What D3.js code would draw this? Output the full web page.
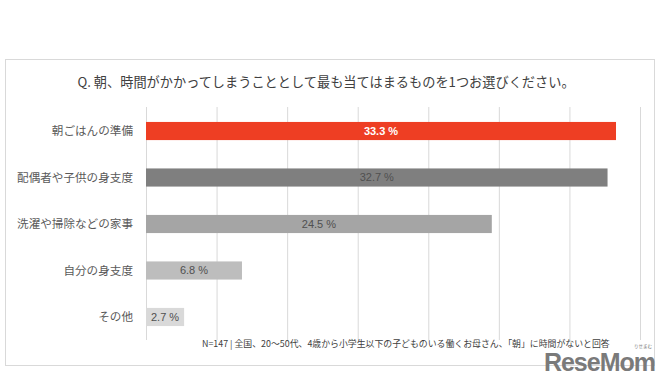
<!DOCTYPE html>
<html><head><meta charset="utf-8">
<script src="https://cdn.jsdelivr.net/npm/d3@7"></script>
<style>body{margin:0;background:#fff}svg{display:block;font-family:"Noto Sans CJK JP","Noto Sans",sans-serif}</style>
</head><body>
<svg id="c" width="668" height="380"></svg>
<script>
const categories = ["朝ごはんの準備","配偶者や子供の身支度","洗濯や掃除などの家事","自分の身支度","その他"];
const values = [33.3, 32.7, 24.5, 6.8, 2.7];
const barColors = ["#EE3E23","#7F7F7F","#A5A5A5","#BDBDBD","#D9D9D9"];
const labelColors = ["#ffffff","#505050","#505050","#505050","#505050"];
const ticks = [0,5,10,15,20,25,30,35];
const title = "Q. 朝、時間がかかってしまうこととして最も当てはまるものを1つお選びください。";
const note = "N=147 | 全国、20〜50代、4歳から小学生以下の子どものいる働くお母さん、「朝」に時間がないと回答";

const svg = d3.select("#c");
svg.append("rect").attr("x",5.5).attr("y",59.5).attr("width",649).attr("height",306)
  .attr("fill","#fff").attr("stroke","#d9d9d9");

const x = d3.scaleLinear().domain([0,35]).range([146,640]);
const y = d3.scaleBand().domain(categories).range([108,340]).paddingInner(0.61).paddingOuter(0.3);

svg.append("text").attr("x",326).attr("y",87).attr("text-anchor","middle")
  .attr("font-size",13.2).attr("font-weight",400).attr("fill","#404040").text(title);

svg.append("g").selectAll("line").data(ticks).join("line")
  .attr("x1",d=>x(d)+0.5).attr("x2",d=>x(d)+0.5).attr("y1",107).attr("y2",340)
  .attr("stroke","#d9d9d9");

svg.append("g").selectAll("rect").data(values).join("rect")
  .attr("x",x(0)).attr("y",(d,i)=>y(categories[i]))
  .attr("width",d=>x(d)-x(0)).attr("height",y.bandwidth())
  .attr("fill",(d,i)=>barColors[i]);

svg.append("g").selectAll("text").data(categories).join("text")
  .attr("x",133).attr("y",d=>y(d)+y.bandwidth()/2).attr("dy","0.36em")
  .attr("text-anchor","end").attr("font-size",11.6).attr("fill","#595959").text(d=>d);

svg.append("g").selectAll("text").data(values).join("text")
  .attr("x",d=>(x(0)+x(d))/2).attr("y",(d,i)=>y(categories[i])+y.bandwidth()/2).attr("dy","0.36em")
  .attr("text-anchor","middle").attr("font-size",11).attr("font-family","Liberation Sans, Arial, sans-serif")
  .attr("font-weight",(d,i)=>i===0?"bold":"normal")
  .attr("fill",(d,i)=>labelColors[i]).text(d=>d.toFixed(1)+" %");

svg.append("text").attr("x",202).attr("y",347).attr("font-size",8.9).attr("fill","#404040").text(note);

svg.append("text").attr("x",655).attr("y",371).attr("text-anchor","end")
  .attr("font-family","Liberation Sans, Arial, sans-serif").attr("font-size",25).attr("font-weight","bold")
  .attr("letter-spacing",-1).attr("fill","#7a7a7a").text("ReseMom");
svg.append("text").attr("x",652).attr("y",348).attr("text-anchor","end")
  .attr("font-size",4.5).attr("fill","#7a7a7a").text("りせまむ");
</script>
</body></html>
